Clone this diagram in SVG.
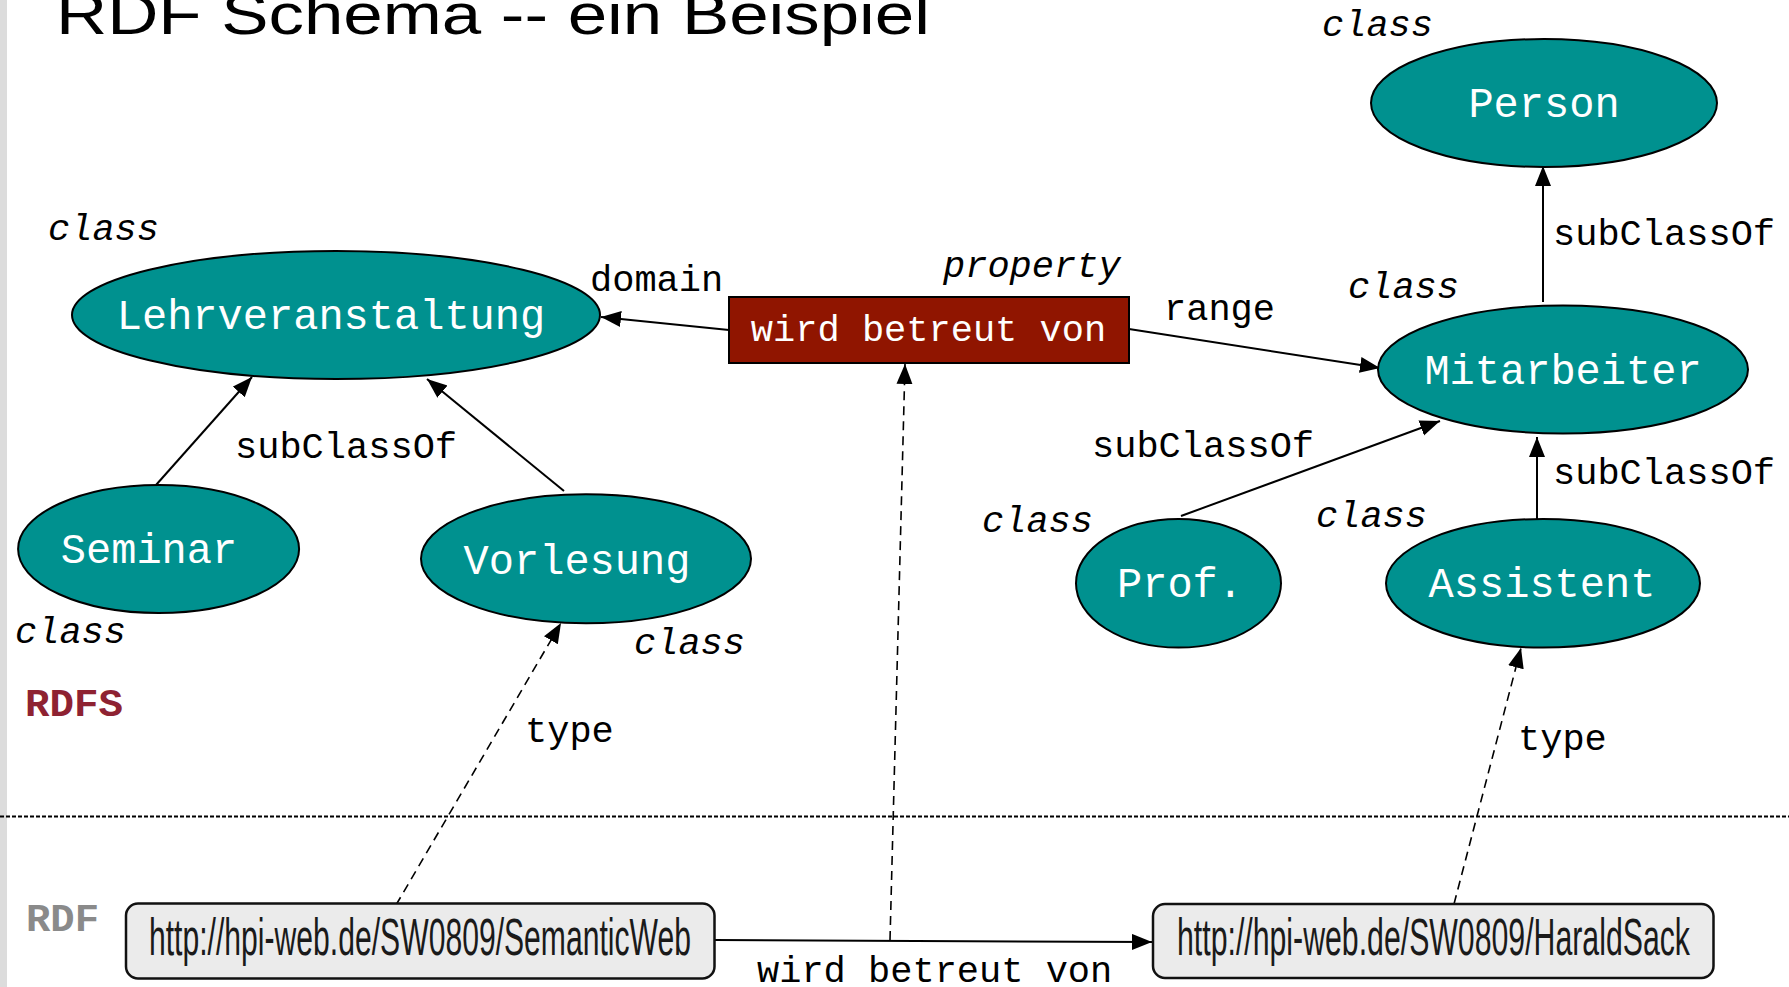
<svg xmlns="http://www.w3.org/2000/svg" width="1789" height="987" viewBox="0 0 1789 987">
<style>
.cls{fill:#00918f;stroke:#000;stroke-width:2}
.nl{font-family:"Liberation Mono","Courier New",monospace;font-size:42px;fill:#fff;text-anchor:middle}
.el{font-family:"Liberation Mono","Courier New",monospace;font-size:37px;fill:#000}
.it{font-family:"Liberation Mono","Courier New",monospace;font-size:37px;font-style:italic;fill:#000}
.e{stroke:#000;stroke-width:2;fill:none;marker-end:url(#ah)}
.d{stroke:#000;stroke-width:1.6;fill:none;stroke-dasharray:9 6;marker-end:url(#ah)}
.url{font-family:"Liberation Sans Narrow","Liberation Sans",Arial,sans-serif;font-size:52px;fill:#1a1a1a}
.box{fill:#ebebeb;stroke:#111;stroke-width:2.5}
.tag{font-family:"Liberation Mono","Courier New",monospace;font-weight:bold;font-size:38px}
</style>
<defs>
<marker id="ah" markerUnits="userSpaceOnUse" markerWidth="22" markerHeight="18" refX="20" refY="8" orient="auto">
<path d="M0,0 L20,8 L0,16 z" fill="#000"/>
</marker>
</defs>
<rect x="0" y="0" width="1789" height="987" fill="#fff"/>
<rect x="0" y="0" width="7" height="987" fill="#dcdcdc"/>
<text x="56" y="34" font-family="Liberation Sans, Arial, sans-serif" font-size="58" textLength="874" lengthAdjust="spacingAndGlyphs" fill="#000">RDF Schema -- ein Beispiel</text>
<line x1="0" y1="816.5" x2="1789" y2="816.5" stroke="#000" stroke-width="2" stroke-dasharray="4 2"/>
<text class="tag" x="25" y="716" fill="#8e2232" textLength="98" lengthAdjust="spacingAndGlyphs">RDFS</text>
<text class="tag" x="26" y="931" fill="#8a8a8a" textLength="73" lengthAdjust="spacingAndGlyphs">RDF</text>
<g id="connectors">
<line class="e" x1="729" y1="330" x2="601" y2="317"/>
<line class="e" x1="1129" y1="329" x2="1380" y2="368"/>
<line class="e" x1="1543" y1="302" x2="1543" y2="166"/>
<line class="e" x1="156" y1="485" x2="252" y2="377"/>
<line class="e" x1="564" y1="491" x2="427" y2="379"/>
<line class="e" x1="1181" y1="516" x2="1440" y2="421"/>
<line class="e" x1="1537" y1="520" x2="1537" y2="437"/>
<line class="d" x1="396" y1="905" x2="561" y2="623"/>
<line class="d" x1="1454" y1="904" x2="1521" y2="648"/>
<line class="d" x1="890" y1="940" x2="905" y2="364"/>
<line class="e" x1="715" y1="940" x2="1152" y2="942"/>
<text class="el" x="590" y="291">domain</text>
<text class="el" x="1164" y="320">range</text>
<text class="el" x="1553" y="245">subClassOf</text>
<text class="el" x="1553" y="484">subClassOf</text>
<text class="el" x="1092" y="457">subClassOf</text>
<text class="el" x="235" y="458">subClassOf</text>
<text class="el" x="525" y="742">type</text>
<text class="el" x="1518" y="750">type</text>
<text class="el" x="757" y="982">wird betreut von</text>
</g>
<g id="person">
<ellipse class="cls" cx="1544" cy="103" rx="173" ry="64"/>
<text class="nl" x="1544" y="117">Person</text>
<text class="it" x="1322" y="36">class</text>
</g>
<g id="mitarbeiter">
<ellipse class="cls" cx="1563" cy="369.5" rx="185" ry="64"/>
<text class="nl" x="1563" y="384">Mitarbeiter</text>
<text class="it" x="1348" y="298">class</text>
</g>
<g id="lehrveranstaltung">
<ellipse class="cls" cx="336" cy="315" rx="264" ry="64"/>
<text class="nl" x="331" y="329">Lehrveranstaltung</text>
<text class="it" x="48" y="240">class</text>
</g>
<g id="seminar">
<ellipse class="cls" cx="158.6" cy="549" rx="140.5" ry="64"/>
<text class="nl" x="149" y="563">Seminar</text>
<text class="it" x="15" y="643">class</text>
</g>
<g id="vorlesung">
<ellipse class="cls" cx="586" cy="558.8" rx="165" ry="64.5"/>
<text class="nl" x="577" y="574">Vorlesung</text>
<text class="it" x="634" y="654">class</text>
</g>
<g id="prof">
<ellipse class="cls" cx="1178.5" cy="583.3" rx="102.5" ry="64.3"/>
<text class="nl" x="1180" y="597">Prof.</text>
<text class="it" x="982" y="532">class</text>
</g>
<g id="assistent">
<ellipse class="cls" cx="1543" cy="583.3" rx="157" ry="64.3"/>
<text class="nl" x="1542" y="597">Assistent</text>
<text class="it" x="1316" y="527">class</text>
</g>
<g id="property">
<rect x="729" y="297" width="400" height="66" fill="#901500" stroke="#000" stroke-width="2"/>
<text class="el" x="928.5" y="341" text-anchor="middle" style="fill:#fff">wird betreut von</text>
<text class="it" x="943" y="277">property</text>
</g>
<g id="semanticweb">
<rect class="box" x="126" y="903.5" width="588.5" height="75" rx="12" ry="12"/>
<text class="url" x="149" y="955" textLength="542" lengthAdjust="spacingAndGlyphs">http://hpi-web.de/SW0809/SemanticWeb</text>
</g>
<g id="haraldsack">
<rect class="box" x="1153" y="904" width="560.5" height="74" rx="12" ry="12"/>
<text class="url" x="1177" y="955" textLength="513" lengthAdjust="spacingAndGlyphs">http://hpi-web.de/SW0809/HaraldSack</text>
</g>
</svg>
